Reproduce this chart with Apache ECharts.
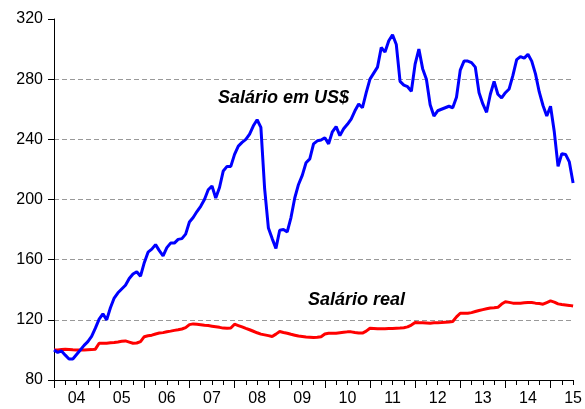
<!DOCTYPE html>
<html>
<head>
<meta charset="utf-8">
<script src="https://cdn.jsdelivr.net/npm/echarts@6/dist/echarts.min.js"></script>
<style>
  html, body { margin: 0; padding: 0; background: #fff; }
  #chart { width: 585px; height: 409px; }
</style>
</head>
<body>
<div id="chart"></div>
<script>
// Índices mensais, jan/2004 = 100, até jul/2015
const startYear = 2004
const yearLabels = ['04', '05', '06', '07', '08', '09', '10', '11', '12', '13', '14', '15']

const salarioUSD = [
  100, 98.3, 99.3, 96.5, 94, 94, 97, 100, 103, 105.5, 109, 114.5,
  120.5, 124, 120, 128, 134.5, 138, 140.5, 143, 147.5, 150.5, 152, 149,
  158, 165, 167, 170, 166, 162.5, 168, 171, 171, 173.5, 174, 177,
  185, 188, 192, 195.5, 200, 206.5, 209, 201, 208, 219, 222, 222,
  230, 235.5, 238, 240, 243.5, 249, 253, 248, 207, 181, 174, 167.5,
  179.6, 180, 178.5, 188, 201, 210, 216, 224.4, 227, 237, 239, 239.5,
  241, 237, 245, 248.5, 242.5, 247, 250, 253.5, 259, 263.5, 261, 271,
  280, 284, 288, 301, 298, 305.5, 309.5, 303, 278.5, 276, 275, 272,
  290, 300, 287, 280, 263, 255.5, 259, 260, 261, 262, 261, 268,
  286, 292, 292, 291, 288, 271, 263.5, 258, 270, 278.5, 270, 267.5,
  271, 273.5, 282.5, 293, 295, 294, 296.5, 292, 283.5, 271.5, 262.5, 255.5,
  262, 245, 222, 230.5, 230, 225, 211
]

const salarioReal = [
  100, 100, 100.2, 100.4, 100.3, 100.1, 100, 100, 100, 100.1, 100.2, 100.5,
  104.4, 104.5, 104.5, 104.8, 105, 105.3, 105.7, 106, 105.2, 104.4, 104.6, 105.5,
  108.8, 109.4, 109.8, 110.6, 111.2, 111.5, 112.1, 112.5, 113, 113.4, 113.9, 114.8,
  116.8, 117.3, 117, 116.7, 116.4, 116.2, 115.8, 115.4, 115, 114.5, 114.4, 114.6,
  117.1, 116.2, 115.3, 114.3, 113.4, 112.4, 111.4, 110.5, 110, 109.5, 108.9, 110.5,
  112.2, 111.6, 111.1, 110.4, 109.8, 109.2, 108.9, 108.6, 108.4, 108.2, 108.4, 108.8,
  110.6, 111.1, 111.1, 111.1, 111.4, 111.7, 112, 112, 111.6, 111.3, 111.2, 112.5,
  114.4, 114.3, 114.1, 114, 114.1, 114.2, 114.3, 114.4, 114.5, 114.8, 115.3, 116.5,
  118.2, 118.1, 118, 117.9, 117.8, 118, 118.1, 118.2, 118.4, 118.6, 118.9, 122,
  124.4, 124.4, 124.4, 124.8, 125.5, 126.2, 126.8, 127.4, 127.9, 128, 128.3, 130.5,
  132, 131.6, 131.1, 131.1, 131.1, 131.3, 131.5, 131.5, 131.1, 130.8, 130.4, 131.5,
  132.6, 131.8, 130.6, 130.2, 129.9, 129.6, 129.2
]

const months = salarioUSD.map((v, i) => {
  const y = startYear + Math.floor(i / 12)
  const m = (i % 12) + 1
  return y + '-' + (m < 10 ? '0' + m : m)
})

const font = 'Liberation Sans, Arial, sans-serif'

const chart = echarts.init(document.getElementById('chart'))

const option = {
  animation: false,
  backgroundColor: '#fff',
  grid: { left: 54, right: 8, top: 19, bottom: 29 },
  xAxis: [
    {
      // ticks trimestrais
      type: 'category',
      data: months,
      boundaryGap: false,
      axisLine: { lineStyle: { color: '#000', width: 1 } },
      axisTick: { length: 5, interval: (i) => i % 3 === 0, lineStyle: { color: '#000' } },
      axisLabel: { show: false },
      splitLine: { show: false }
    },
    {
      // ticks anuais + rótulos
      type: 'category',
      data: months,
      boundaryGap: false,
      position: 'bottom',
      axisLine: { lineStyle: { color: '#000', width: 1 } },
      axisTick: { length: 8, interval: (i) => i % 12 === 0, lineStyle: { color: '#000' } },
      axisLabel: {
        interval: (i) => i % 12 === 6,
        formatter: (v, i) => yearLabels[Math.floor(i / 12)],
        color: '#000',
        fontFamily: font,
        fontSize: 16,
        margin: 11
      },
      splitLine: { show: false }
    }
  ],
  yAxis: {
    type: 'value',
    min: 80,
    max: 320,
    interval: 40,
    axisLine: { show: true, lineStyle: { color: '#000', width: 1 } },
    axisTick: { show: true, length: 6, lineStyle: { color: '#000' } },
    axisLabel: { color: '#000', fontFamily: font, fontSize: 16, margin: 11 },
    splitLine: {
      show: true,
      showMinLine: false,
      showMaxLine: false,
      lineStyle: { color: '#999', type: [5, 3], width: 1 }
    }
  },
  series: [
    {
      name: 'Salário real',
      type: 'line',
      data: salarioReal,
      showSymbol: false,
      lineStyle: { color: '#ff0000', width: 3 },
      itemStyle: { color: '#ff0000' }
    },
    {
      name: 'Salário em US$',
      type: 'line',
      data: salarioUSD,
      showSymbol: false,
      lineStyle: { color: '#0000ff', width: 3 },
      itemStyle: { color: '#0000ff' }
    }
  ],
  graphic: [
    {
      type: 'text',
      left: 218,
      top: 89,
      style: { text: 'Salário em US$', fill: '#000', font: 'italic bold 18px ' + font }
    },
    {
      type: 'text',
      left: 308,
      top: 291,
      style: { text: 'Salário real', fill: '#000', font: 'italic bold 18px ' + font }
    }
  ]
}

chart.setOption(option)
</script>
</body>
</html>
